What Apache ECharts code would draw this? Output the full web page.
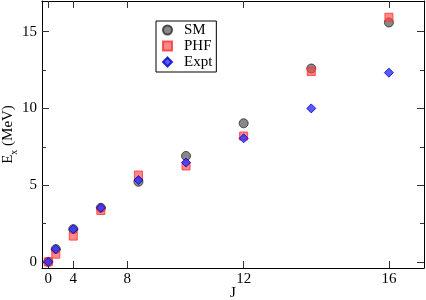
<!DOCTYPE html>
<html>
<head>
<meta charset="utf-8">
<script src="https://cdn.jsdelivr.net/npm/echarts@6/dist/echarts.min.js"></script>
<style>html,body{margin:0;padding:0;background:#fff}#c{width:426px;height:300px}</style>
</head>
<body>
<div id="c"></div>
<script>
// Angular momentum J; x axis is plotted in J(J+1)
var J = [0, 2, 4, 6, 8, 10, 12, 14, 16];
var SM   = [0, 0.83, 2.13, 3.52, 5.22, 6.90, 9.03, 12.60, 15.60];
var PHF  = [0, 0.50, 1.68, 3.35, 5.66, 6.25, 8.20, 12.40, 15.94];
var Expt = [0, 0.83, 2.13, 3.52, 5.33, 6.47, 8.05, 10.00, 12.33];
var xTickLabels = ['0', '4', '8', '12', '16'];
var xTickPos = [0, 20, 63, 156, 272];
var yMajor = [0, 5, 10, 15];
var yMinor = [2.5, 7.5, 12.5];

function pts(vals) {
  return J.map(function (j, i) { return [j * (j + 1), vals[i]]; });
}
var FONT = 'Liberation Serif';
var XMIN = -5, XMAX = 300, YMIN = -0.4, YMAX = 17;

function yAx(pos, vals, len, showLabel, showLine) {
  return {
    type: 'value', position: pos, min: YMIN, max: YMAX,
    splitLine: { show: false },
    axisLine: { show: showLine, onZero: false, lineStyle: { color: '#000', width: 1 } },
    axisTick: { show: true, inside: true, length: len, customValues: vals, lineStyle: { color: '#333' } },
    axisLabel: { show: showLabel, customValues: yMajor, margin: 5, color: '#000', fontFamily: FONT, fontSize: 15 }
  };
}

var chart = echarts.init(document.getElementById('c'), null, { renderer: 'canvas' });
var yLeft = yAx('left', yMajor, 7, true, true);
yLeft.name = '{e|E}{s|x}{e| (MeV)}';
yLeft.nameLocation = 'middle';
yLeft.nameGap = 26;
yLeft.nameMoveOverlap = false;
yLeft.nameTextStyle = {
  color: '#000', fontFamily: FONT,
  rich: {
    e: { fontFamily: FONT, fontSize: 15, color: '#000', lineHeight: 18, verticalAlign: 'bottom' },
    s: { fontFamily: FONT, fontSize: 10, color: '#000', lineHeight: 18, verticalAlign: 'bottom', padding: [0, 0, -3, 0] }
  }
};

chart.setOption({
  animation: false,
  backgroundColor: '#fff',
  grid: { left: 42, right: 2, top: 1, bottom: 32, containLabel: false, outerBoundsMode: 'none' },
  legend: {
    orient: 'vertical', left: 156, top: 21,
    borderColor: '#000', borderWidth: 1, borderRadius: 0,
    padding: [1, 4, 2, 6],
    itemWidth: 9, itemHeight: 9, itemGap: 0,
    textStyle: { fontFamily: FONT, fontSize: 15, color: '#000', lineHeight: 16, padding: [0, 0, 0, 7] },
    data: ['SM', 'PHF', 'Expt']
  },
  xAxis: [
    {
      type: 'value', position: 'bottom', min: XMIN, max: XMAX,
      name: 'J', nameLocation: 'middle', nameGap: 18, nameMoveOverlap: false,
      nameTextStyle: { fontFamily: FONT, fontSize: 15, color: '#000' },
      splitLine: { show: false },
      axisLine: { onZero: false, lineStyle: { color: '#000', width: 1 } },
      axisTick: { inside: true, length: 7, customValues: xTickPos, lineStyle: { color: '#333' } },
      axisLabel: {
        customValues: xTickPos, margin: 4, color: '#000', fontFamily: FONT, fontSize: 15,
        formatter: function (v) { var k = xTickPos.indexOf(v); return k >= 0 ? xTickLabels[k] : ''; }
      }
    },
    {
      type: 'value', position: 'top', min: XMIN, max: XMAX,
      splitLine: { show: false },
      axisLine: { onZero: false, lineStyle: { color: '#000', width: 1 } },
      axisTick: { inside: true, length: 7, customValues: xTickPos, lineStyle: { color: '#333' } },
      axisLabel: { show: false }
    }
  ],
  yAxis: [
    yLeft,
    yAx('left', yMinor, 4, false, false),
    yAx('right', yMajor, 7, false, true),
    yAx('right', yMinor, 4, false, false)
  ],
  series: [
    {
      name: 'SM', type: 'scatter', symbol: 'circle', symbolSize: 9,
      itemStyle: { color: '#6a6a6a', borderColor: '#2a2a2a', borderWidth: 1 },
      data: pts(SM)
    },
    {
      name: 'PHF', type: 'scatter', symbol: 'rect', symbolSize: 8,
      itemStyle: { color: 'rgba(255,70,70,0.8)', borderColor: '#ff3030', borderWidth: 1 },
      data: pts(PHF)
    },
    {
      name: 'Expt', type: 'scatter', symbol: 'diamond', symbolSize: 9,
      itemStyle: { color: '#2f2fff', borderColor: '#0000c0', borderWidth: 1 },
      data: pts(Expt)
    }
  ]
});
</script>
</body>
</html>
